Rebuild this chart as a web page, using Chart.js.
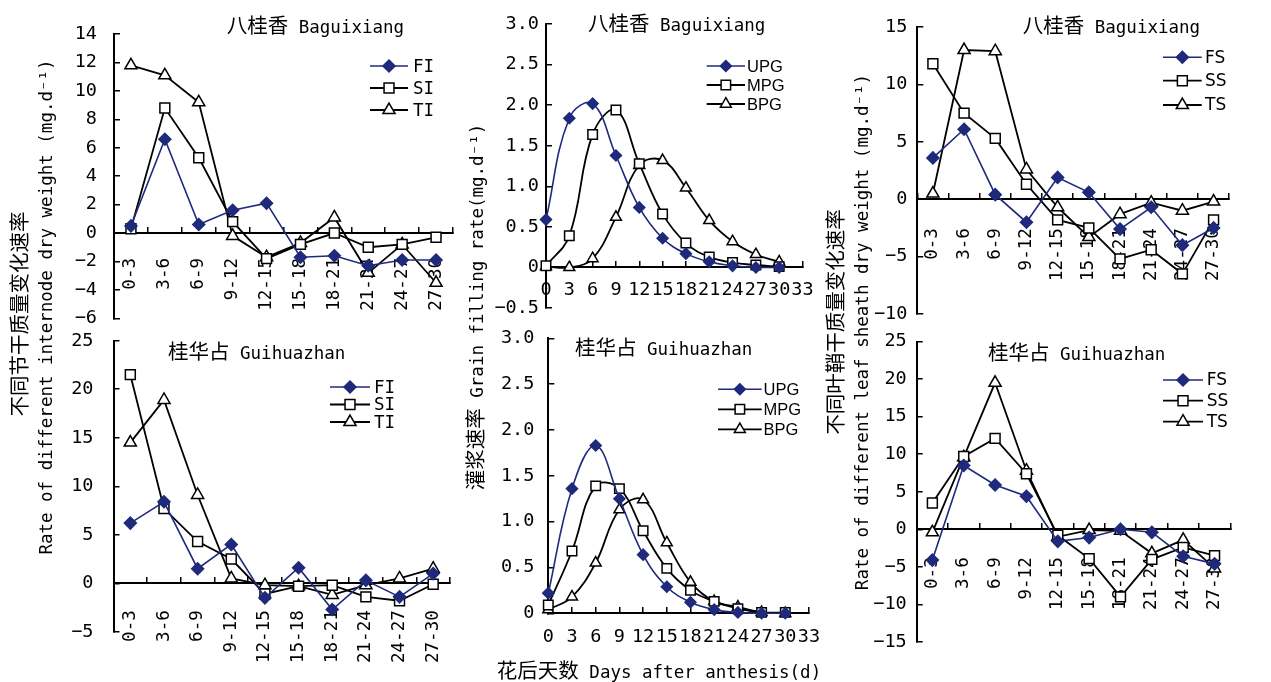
<!DOCTYPE html>
<html>
<head>
<meta charset="utf-8">
<script src="https://cdn.jsdelivr.net/npm/chart.js@4"></script>
<style>
html,body{margin:0;padding:0;background:#fff;}
#wrap{position:relative;width:1271px;height:682px;overflow:hidden;background:#fff;}
canvas{position:absolute;left:0;top:0;}
</style>
</head>
<body>
<div id="wrap">
<canvas id="c1" width="1271" height="682" style="width:1271px;height:682px"></canvas>
<canvas id="c2" width="1271" height="682" style="width:1271px;height:682px"></canvas>
<canvas id="c3" width="1271" height="682" style="width:1271px;height:682px"></canvas>
<canvas id="c4" width="1271" height="682" style="width:1271px;height:682px"></canvas>
<canvas id="c5" width="1271" height="682" style="width:1271px;height:682px"></canvas>
<canvas id="c6" width="1271" height="682" style="width:1271px;height:682px"></canvas>
</div>
<script>
// ---------------- DATA ----------------
const CATEGORIES = ['0-3','3-6','6-9','9-12','12-15','15-18','18-21','21-24','24-27','27-30'];
const DAYS = [0,3,6,9,12,15,18,21,24,27,30];

// internode, Baguixiang
const FI_BG = [0.5, 6.6, 0.6, 1.6, 2.1, -1.7, -1.6, -2.3, -1.9, -1.9];
const SI_BG = [0.3, 8.8, 5.3, 0.8, -1.8, -0.8, 0.0, -1.0, -0.8, -0.3];
const TI_BG = [11.8, 11.1, 9.2, -0.2, -1.7, -0.7, 1.1, -2.8, -0.8, -3.5];
// internode, Guihuazhan
const FI_GH = [6.2, 8.4, 1.5, 4.0, -1.5, 1.6, -2.7, 0.3, -1.4, 1.0];
const SI_GH = [21.5, 7.7, 4.3, 2.5, -1.1, -0.3, -0.2, -1.4, -1.8, -0.1];
const TI_GH = [14.5, 18.9, 9.1, 0.5, -0.2, -0.3, -1.2, -0.2, 0.5, 1.5];
// grain filling, Baguixiang
const UPG_BG = [0.59, 1.84, 2.02, 1.38, 0.74, 0.36, 0.17, 0.07, 0.02, 0.0, 0.0];
const MPG_BG = [0.02, 0.39, 1.64, 1.94, 1.28, 0.66, 0.30, 0.13, 0.06, 0.03, 0.01];
const BPG_BG = [0.01, 0.0, 0.11, 0.62, 1.26, 1.32, 0.98, 0.58, 0.32, 0.16, 0.07];
// grain filling, Guihuazhan
const UPG_GH = [0.22, 1.36, 1.83, 1.25, 0.64, 0.29, 0.12, 0.04, 0.01, 0.0, 0.0];
const MPG_GH = [0.09, 0.68, 1.39, 1.36, 0.90, 0.49, 0.25, 0.13, 0.05, 0.01, 0.01];
const BPG_GH = [0.04, 0.18, 0.55, 1.13, 1.24, 0.77, 0.34, 0.13, 0.07, 0.01, 0.0];
// leaf sheath, Baguixiang
const FS_BG = [3.6, 6.1, 0.4, -2.0, 1.9, 0.6, -2.6, -0.7, -4.0, -2.5];
const SS_BG = [11.8, 7.5, 5.3, 1.3, -1.8, -2.5, -5.2, -4.4, -6.5, -1.8];
const TS_BG = [0.5, 13.0, 12.9, 2.6, -0.7, -3.3, -1.3, -0.3, -1.0, -0.2];
// leaf sheath, Guihuazhan
const FS_GH = [-4.1, 8.5, 5.9, 4.4, -1.6, -1.1, 0.0, -0.4, -3.6, -4.6];
const SS_GH = [3.5, 9.7, 12.1, 7.4, -0.8, -3.9, -9.0, -4.0, -2.4, -3.5];
const TS_GH = [-0.4, 9.6, 19.5, 7.8, -1.0, -0.1, -0.2, -3.2, -1.4, -5.2];

// ---------------- TEXT ----------------
const TITLE_BG = '八桂香 Baguixiang';
const TITLE_GH = '桂华占 Guihuazhan';
const Y_TITLE_LEFT_CN = '不同节干质量变化速率';
const Y_TITLE_LEFT_EN = 'Rate of different internode dry weight (mg.d⁻¹)';
const Y_TITLE_MID = '灌浆速率 Grain filling rate(mg.d⁻¹)';
const Y_TITLE_RIGHT_CN = '不同叶鞘干质量变化速率';
const Y_TITLE_RIGHT_EN = 'Rate of different leaf sheath dry weight (mg.d⁻¹)';
const X_TITLE_MID = '花后天数 Days after anthesis(d)';

// ---------------- STYLE ----------------
const W = 1271, H = 682;
const YW = 70; // fixed width reserved for y tick labels
const BLUE = '#1f2a7c';
const MONO = "'DejaVu Sans Mono'";
const LATIN_FONT = "17.5px 'DejaVu Sans Mono'";
const CJK_FONT = "20.5px 'Noto Sans CJK SC'";

const STY_SIDE = [
  {color: BLUE, style: 'rectRot', r: 6, fill: BLUE, stroke: BLUE, lw: 1.6},
  {color: '#000', style: 'rect', r: 7, fill: '#fff', stroke: '#000', lw: 1.8},
  {color: '#000', style: 'triangle', r: 7, fill: '#fff', stroke: '#000', lw: 1.8}
];
const STY_MID = [
  {color: BLUE, style: 'rectRot', r: 5.5, fill: BLUE, stroke: BLUE, lw: 1.6},
  {color: '#000', style: 'rect', r: 6.7, fill: '#fff', stroke: '#000', lw: 1.8},
  {color: '#000', style: 'triangle', r: 6.3, fill: '#fff', stroke: '#000', lw: 1.8}
];

function fmt(v, dec) {
  let s;
  if (Math.abs(v) < 1e-9) s = '0';
  else s = dec ? Number(v).toFixed(dec) : String(Math.round(v));
  return s.replace('-', '\u2212');
}

const CJK_RE = /[\u3000-\u9fff\uff00-\uffef]/;
function splitRuns(text) {
  const runs = [];
  for (const ch of text) {
    const cjk = CJK_RE.test(ch);
    if (runs.length && runs[runs.length - 1].cjk === cjk) runs[runs.length - 1].t += ch;
    else runs.push({t: ch, cjk: cjk});
  }
  return runs;
}
// draws mixed CJK/latin text; y = visual centre line
function drawMixed(ctx, text, x, y, align, latinFont, cjkFont) {
  const runs = splitRuns(text);
  let total = 0;
  runs.forEach(r => { ctx.font = r.cjk ? cjkFont : latinFont; r.w = ctx.measureText(r.t).width; total += r.w; });
  let cx = align === 'center' ? x - total / 2 : x;
  ctx.textAlign = 'left';
  ctx.textBaseline = 'alphabetic';
  runs.forEach(r => { ctx.font = r.cjk ? cjkFont : latinFont; ctx.fillText(r.t, cx, y + 6.5); cx += r.w; });
}

function drawMarker(ctx, s, x, y) {
  const r = s.r;
  ctx.beginPath();
  if (s.style === 'rectRot') {
    ctx.moveTo(x, y - r); ctx.lineTo(x + r, y); ctx.lineTo(x, y + r); ctx.lineTo(x - r, y); ctx.closePath();
  } else if (s.style === 'rect') {
    const h = r * Math.SQRT1_2; ctx.rect(x - h, y - h, 2 * h, 2 * h);
  } else {
    let a = 0;
    ctx.moveTo(x + Math.sin(a) * r, y - Math.cos(a) * r);
    a += 2 * Math.PI / 3; ctx.lineTo(x + Math.sin(a) * r, y - Math.cos(a) * r);
    a += 2 * Math.PI / 3; ctx.lineTo(x + Math.sin(a) * r, y - Math.cos(a) * r);
    ctx.closePath();
  }
  ctx.fillStyle = s.fill; ctx.fill();
  ctx.lineWidth = 1.5; ctx.strokeStyle = s.stroke; ctx.stroke();
}

function makeDeco(cfg, styles) {
  return {
    id: 'deco',
    afterDraw(chart) {
      const ctx = chart.ctx;
      ctx.save();
      ctx.fillStyle = '#000';
      drawMixed(ctx, cfg.title, cfg.titleX, cfg.titleY, 'left', LATIN_FONT, CJK_FONT);
      const lg = cfg.legend;
      chart.data.datasets.forEach((ds, i) => {
        const s = styles[i];
        const y = lg.rows[i];
        ctx.strokeStyle = s.color; ctx.lineWidth = s.lw;
        ctx.beginPath(); ctx.moveTo(lg.x0, y); ctx.lineTo(lg.x1, y); ctx.stroke();
        drawMarker(ctx, s, (lg.x0 + lg.x1) / 2, y);
        ctx.fillStyle = '#000';
        ctx.font = lg.font; ctx.textAlign = 'left'; ctx.textBaseline = 'middle';
        ctx.fillText(ds.label, lg.tx, y + 1);
      });
      ctx.restore();
    }
  };
}

const pageTitles = {
  id: 'pageTitles',
  afterDraw(chart) {
    const ctx = chart.ctx;
    ctx.save();
    ctx.fillStyle = '#000';
    const rot = (text, cx, cy) => {
      ctx.save(); ctx.translate(cx, cy); ctx.rotate(-Math.PI / 2);
      drawMixed(ctx, text, 0, 0, 'center', LATIN_FONT, CJK_FONT);
      ctx.restore();
    };
    rot(Y_TITLE_LEFT_CN, 20, 314);
    rot(Y_TITLE_LEFT_EN, 45, 307);
    rot(Y_TITLE_MID, 476, 307);
    rot(Y_TITLE_RIGHT_CN, 836, 322);
    rot(Y_TITLE_RIGHT_EN, 861, 332);
    drawMixed(ctx, X_TITLE_MID, 659, 671, 'center', LATIN_FONT, CJK_FONT);
    ctx.restore();
  }
};

function dataset(label, data, s, tension) {
  return {
    label: label, data: data,
    borderColor: s.color, borderWidth: s.lw, fill: false, tension: tension, clip: false,
    pointStyle: s.style, pointRadius: s.r, pointHoverRadius: s.r,
    pointBackgroundColor: s.fill, pointBorderColor: s.stroke, pointBorderWidth: 1.5
  };
}

function baseOptions(cfg) {
  return {
    responsive: false, maintainAspectRatio: false, animation: false, devicePixelRatio: 1,
    events: [],
    layout: {padding: {left: cfg.L - YW, top: cfg.T, right: W - cfg.R, bottom: H - cfg.B}},
    plugins: {legend: {display: false}, tooltip: {enabled: false}, title: {display: false}}
  };
}

function yScale(cfg, dec) {
  return {
    type: 'linear', position: 'left', min: cfg.yMin, max: cfg.yMax,
    afterFit: s => { s.width = YW; },
    grid: {drawOnChartArea: false, drawTicks: true, tickLength: -6, color: '#000', lineWidth: 1.5},
    border: {display: true, color: '#000', width: 2},
    ticks: {stepSize: cfg.yStep, padding: cfg.yPad, color: '#000', font: {family: MONO, size: 18.5},
            callback: v => fmt(v, dec)}
  };
}

function sideChart(id, cfg, extraPlugins) {
  const opts = baseOptions(cfg);
  opts.scales = {
    x: {
      type: 'category', offset: true, position: {y: 0},
      afterFit: s => { s.height = 0; },
      grid: {offset: true, drawOnChartArea: false, drawTicks: true, tickLength: -7, color: '#000', lineWidth: 1.5},
      border: {display: true, color: '#000', width: 2},
      ticks: {autoSkip: false, minRotation: 90, maxRotation: 90, padding: cfg.xPad, color: '#000',
              font: {family: MONO, size: 17.5}}
    },
    y: yScale(cfg, 0)
  };
  return new Chart(document.getElementById(id), {
    type: 'line',
    data: {labels: CATEGORIES, datasets: cfg.series.map((s, i) => dataset(s.label, s.data, STY_SIDE[i], 0))},
    options: opts,
    plugins: [makeDeco(cfg, STY_SIDE)].concat(extraPlugins || [])
  });
}

function midChart(id, cfg) {
  const opts = baseOptions(cfg);
  opts.scales = {
    x: {
      type: 'linear', min: 0, max: 33, position: {y: 0},
      afterFit: s => { s.height = 0; },
      grid: {drawOnChartArea: false, drawTicks: true, tickLength: -7, color: '#000', lineWidth: 1.5},
      border: {display: true, color: '#000', width: 2},
      ticks: {stepSize: 3, autoSkip: false, minRotation: 0, maxRotation: 0, padding: cfg.xPad, color: '#000',
              font: {family: MONO, size: 18.5}, callback: v => String(v)}
    },
    y: yScale(cfg, 1)
  };
  return new Chart(document.getElementById(id), {
    type: 'line',
    data: {datasets: cfg.series.map((s, i) => dataset(s.label, DAYS.map((d, k) => ({x: d, y: s.data[k]})), STY_MID[i], 0.4))},
    options: opts,
    plugins: [makeDeco(cfg, STY_MID)]
  });
}

const SIDE_LEGEND_FONT_I = "17.5px 'DejaVu Sans Mono'";
const MID_LEGEND_FONT = "16.5px 'Liberation Sans'";
const SIDE_LEGEND_FONT_S = "17px 'DejaVu Sans'";

sideChart('c1', {
  L: 114, R: 453, T: 18.3, B: 318.3, yMin: -6, yMax: 14, yStep: 2, yPad: 23, xPad: 32,
  series: [{label: 'FI', data: FI_BG}, {label: 'SI', data: SI_BG}, {label: 'TI', data: TI_BG}],
  title: TITLE_BG, titleX: 226.7, titleY: 26.7,
  legend: {x0: 370, x1: 408, tx: 413, rows: [66, 88, 110], font: SIDE_LEGEND_FONT_I}
}, [pageTitles]);

sideChart('c2', {
  L: 113.5, R: 450, T: 340.7, B: 631.8, yMin: -5, yMax: 25, yStep: 5, yPad: 26, xPad: 34,
  series: [{label: 'FI', data: FI_GH}, {label: 'SI', data: SI_GH}, {label: 'TI', data: TI_GH}],
  title: TITLE_GH, titleX: 168, titleY: 352.7,
  legend: {x0: 330, x1: 370, tx: 374, rows: [387, 404.5, 422], font: SIDE_LEGEND_FONT_I}
});

midChart('c3', {
  L: 546, R: 802.5, T: 14, B: 308, yMin: -0.5, yMax: 3, yStep: 0.5, yPad: 13, xPad: 19,
  series: [{label: 'UPG', data: UPG_BG}, {label: 'MPG', data: MPG_BG}, {label: 'BPG', data: BPG_BG}],
  title: TITLE_BG, titleX: 588, titleY: 24,
  legend: {x0: 706.7, x1: 745, tx: 747, rows: [66, 85, 104], font: MID_LEGEND_FONT}
});

midChart('c4', {
  L: 548.3, R: 809, T: 338.3, B: 613.3, yMin: 0, yMax: 3, yStep: 0.5, yPad: 20, xPad: 19.3,
  series: [{label: 'UPG', data: UPG_GH}, {label: 'MPG', data: MPG_GH}, {label: 'BPG', data: BPG_GH}],
  title: TITLE_GH, titleX: 575, titleY: 348.3,
  legend: {x0: 718, x1: 761.7, tx: 763.5, rows: [389.3, 409.3, 429.3], font: MID_LEGEND_FONT}
});

sideChart('c5', {
  L: 917.3, R: 1262.7, T: 19.3, B: 314, yMin: -10, yMax: 15, yStep: 5, yPad: 16, xPad: 36,
  series: [{label: 'FS', data: FS_BG}, {label: 'SS', data: SS_BG}, {label: 'TS', data: TS_BG}],
  title: TITLE_BG, titleX: 1022.7, titleY: 26,
  legend: {x0: 1163, x1: 1201.7, tx: 1205, rows: [57.3, 80.7, 105], font: SIDE_LEGEND_FONT_S}
});

sideChart('c6', {
  L: 916.7, R: 1263.3, T: 341.5, B: 642, yMin: -15, yMax: 25, yStep: 5, yPad: 16, xPad: 35,
  series: [{label: 'FS', data: FS_GH}, {label: 'SS', data: SS_GH}, {label: 'TS', data: TS_GH}],
  title: TITLE_GH, titleX: 988, titleY: 353.3,
  legend: {x0: 1163, x1: 1203, tx: 1206.7, rows: [380, 400.7, 421.7], font: SIDE_LEGEND_FONT_S}
});
</script>
</body>
</html>
